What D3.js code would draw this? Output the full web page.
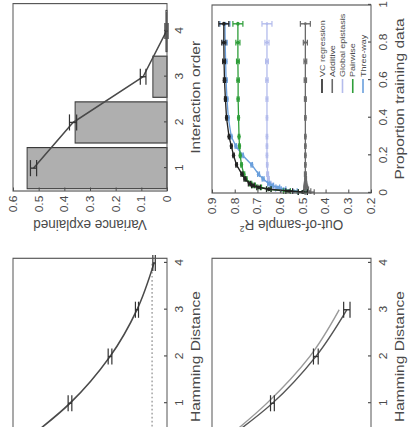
<!DOCTYPE html>
<html>
<head>
<meta charset="utf-8">
<script src="https://cdn.jsdelivr.net/npm/d3@7"></script>
<style>
body { margin: 0; background: #fff; }
svg { display: block; font-family: "Liberation Sans", Arial, sans-serif; }
</style>
</head>
<body>
<div class="plot"></div>
<script>
// variance explained by interaction order
var orders = [1, 2, 3, 4];
var varBars = [0.545, 0.358, 0.055, 0.004];
var varLine = [0.52, 0.366, 0.093, 0.002];
var varErr = [0.012, 0.014, 0.011, 0.006];
var varTicks = [0, 0.1, 0.2, 0.3, 0.4, 0.5, 0.6];

// out-of-sample R2 vs proportion of training data
var props = [0.005, 0.01, 0.02, 0.03, 0.04, 0.05, 0.075, 0.1, 0.15, 0.2, 0.25, 0.3, 0.4, 0.5, 0.6, 0.7, 0.8, 0.9];
var r2Names = ["VC regression", "Additive", "Global epistasis", "Pairwise", "Three-way"];
var r2Colors = ["#222222", "#6a6a6a", "#b4bcec", "#2f9e3a", "#6a9fdc"];
var r2VC = [0.50, 0.56, 0.65, 0.695, 0.72, 0.735, 0.755, 0.768, 0.792, 0.805, 0.815, 0.825, 0.836, 0.841, 0.845, 0.847, 0.848, 0.848];
var r2Add = [0.47, 0.48, 0.485, 0.487, 0.488, 0.488, 0.488, 0.489, 0.489, 0.489, 0.489, 0.489, 0.489, 0.489, 0.489, 0.489, 0.489, 0.489];
var r2Glob = [0.50, 0.56, 0.61, 0.63, 0.64, 0.645, 0.652, 0.655, 0.657, 0.658, 0.658, 0.658, 0.658, 0.658, 0.658, 0.658, 0.658, 0.658];
var r2Pair = [0.50, 0.57, 0.65, 0.69, 0.715, 0.73, 0.75, 0.76, 0.77, 0.776, 0.779, 0.781, 0.783, 0.785, 0.785, 0.786, 0.786, 0.786];
var r2Three = [0.50, 0.54, 0.585, 0.61, 0.635, 0.65, 0.675, 0.695, 0.725, 0.765, 0.795, 0.815, 0.828, 0.834, 0.838, 0.84, 0.842, 0.843];
var r2Err = [0.02, 0.015, 0.01, 0.008, 0.006, 0.005, 0.004, 0.004, 0.003, 0.003, 0.003, 0.003, 0.003, 0.004, 0.005, 0.006, 0.009, 0.022];
var propTicks = [0, 0.2, 0.4, 0.6, 0.8, 1];
var r2Ticks = [0.2, 0.3, 0.4, 0.5, 0.6, 0.7, 0.8, 0.9];

// decay with Hamming distance
var hamDist = [0, 1, 2, 3, 4];
var hamCorr = [1, 0.63, 0.37, 0.195, 0.084];
var hamErr = [0, 0.012, 0.012, 0.01, 0.008];
var hamRef = 0.097;
var hamDistB = [0, 1, 2, 3];
var hamCorrB1 = [1, 0.62, 0.347, 0.152];
var hamCorrB2 = [1, 0.655, 0.385, 0.2];
var hamErrB = [0, 0.012, 0.015, 0.02];
var hamTicks = [1, 2, 3, 4];

var W = 408, H = 427, S = 1.15;
var ink = "#4a4a4a";

// the figure is turned a quarter turn to the left and a little stretched;
// ox turns a row of the picture into the figure's own x
function ox(Y) { return (H - Y) / S; }

var svg = d3.select(".plot").append("svg")
    .attr("width", W)
    .attr("height", H);

var fig = svg.append("g")
    .attr("transform", "translate(0," + H + ") rotate(-90) scale(" + S + ",1)");

function axes(g, x, y, xt, yt, xfmt, yfmt, xlab, ylab) {
  var x0 = d3.min(x.range()), x1 = d3.max(x.range());
  var y0 = d3.min(y.range()), y1 = d3.max(y.range());

  g.append("g")
      .attr("transform", "translate(0," + y1 + ")")
      .call(d3.axisBottom(x).tickValues(xt).tickFormat(xfmt)
        .tickSizeInner(-3).tickSizeOuter(0).tickPadding(9));
  if (yt) {
    g.append("g")
        .attr("transform", "translate(" + x0 + ",0)")
        .call(d3.axisLeft(y).tickValues(yt).tickFormat(yfmt)
          .tickSizeInner(-3).tickSizeOuter(0).tickPadding(4));
  }
  g.selectAll(".domain").remove();
  g.selectAll(".tick line").attr("stroke", ink);
  g.selectAll(".tick text")
      .attr("font-size", 10.5)
      .attr("fill", ink);
  g.selectAll("g").attr("font-family", null);

  g.append("rect")
      .attr("x", x0).attr("y", y0)
      .attr("width", x1 - x0).attr("height", y1 - y0)
      .attr("fill", "none")
      .attr("stroke", "#555")
      .attr("stroke-width", 1);

  g.append("text")
      .attr("x", (x0 + x1) / 2)
      .attr("y", y1 + 33)
      .attr("text-anchor", "middle")
      .attr("font-size", 13.5)
      .attr("fill", ink)
      .text(xlab);

  if (ylab) {
    g.append("text")
        .attr("transform", "translate(" + ox(225) + "," + (y0 + y1) / 2 + ") rotate(-90)")
        .attr("dy", "0.3em")
        .attr("text-anchor", "middle")
        .attr("font-size", 13.5)
        .attr("fill", ink)
        .text(ylab);
  }
}

function errorBars(g, xs, vs, es, x, y, cap, col) {
  var eb = g.append("g").attr("stroke", col).attr("stroke-width", 1.2);
  xs.forEach(function(d, i) {
    if (!es[i]) return;
    eb.append("line").attr("x1", x(d)).attr("x2", x(d))
        .attr("y1", y(vs[i] - es[i])).attr("y2", y(vs[i] + es[i]));
    [vs[i] - es[i], vs[i] + es[i]].forEach(function(v) {
      eb.append("line").attr("x1", x(d) - cap).attr("x2", x(d) + cap)
          .attr("y1", y(v)).attr("y2", y(v));
    });
  });
}

// ---- variance explained (upper left of the picture) ----
var gV = fig.append("g");
var xV = d3.scaleLinear().domain([0.5, 4.6]).range([ox(191), ox(3.6)]);
var yV = d3.scaleLinear().domain([0, 0.6]).range([167, 13]);
var bw = (xV(1) - xV(0.5)) * 1.8;

gV.selectAll(".bar")
    .data(orders)
  .enter().append("rect")
    .attr("class", "bar")
    .attr("x", function(d) { return xV(d) - bw / 2; })
    .attr("width", bw)
    .attr("y", function(d, i) { return yV(varBars[i]); })
    .attr("height", function(d, i) { return yV(0) - yV(varBars[i]); })
    .attr("fill", "#afafaf")
    .attr("stroke", "#3a3a3a")
    .attr("stroke-width", 1);

gV.append("path")
    .datum(orders)
    .attr("fill", "none")
    .attr("stroke", ink)
    .attr("stroke-width", 1.4)
    .attr("d", d3.line()
      .x(function(d) { return xV(d); })
      .y(function(d, i) { return yV(varLine[i]); }));

errorBars(gV, orders, varLine, varErr, xV, yV, 7, "#333");

axes(gV, xV, yV, orders, varTicks, d3.format("d"), function(d) { return d === 0 ? "0" : d3.format(".1f")(d); },
  "Interaction order", "Variance explained");

// ---- out-of-sample R2 (upper right of the picture) ----
var gR = fig.append("g");
var xR = d3.scaleLinear().domain([0, 1]).range([ox(193), ox(5)]);
var yR = d3.scaleLinear().domain([0.2, 0.9]).range([371, 212]);
var r2Series = [r2VC, r2Add, r2Glob, r2Pair, r2Three];
var drawOrder = [1, 2, 4, 3, 0];

drawOrder.forEach(function(k) {
  var vals = r2Series[k], col = r2Colors[k];
  gR.append("path")
      .datum(props)
      .attr("fill", "none")
      .attr("stroke", col)
      .attr("stroke-width", 1.3)
      .attr("d", d3.line()
        .x(function(d) { return xR(d); })
        .y(function(d, i) { return yR(vals[i]); }));
  errorBars(gR, props, vals, r2Err, xR, yR, 2.5, col);
  gR.selectAll(".m" + k)
      .data(props)
    .enter().append("circle")
      .attr("class", "m" + k)
      .attr("cx", function(d) { return xR(d); })
      .attr("cy", function(d, i) { return yR(vals[i]); })
      .attr("r", k === 1 || k === 2 ? 1.3 : 1.7)
      .attr("fill", col);
});

axes(gR, xR, yR, propTicks, r2Ticks, function(d) { return d === 0 || d === 1 ? String(d) : d3.format(".1f")(d); },
  d3.format(".1f"), "Proportion training data", null);

gR.append("text")
    .attr("transform", "translate(" + ox(225) + "," + (212 + 371) / 2 + ") rotate(-90)")
    .attr("dy", "0.3em")
    .attr("text-anchor", "middle")
    .attr("font-size", 13.5)
    .attr("fill", ink)
    .text("Out-of-sample R")
  .append("tspan")
    .attr("font-size", 8.5)
    .attr("dy", "-0.6em")
    .text("2");

// legend
var leg = gR.append("g").attr("transform", "translate(" + ox(93) + ",0)");
var legY = d3.scalePoint().domain(r2Names).range([322, 363]);
r2Names.forEach(function(n, i) {
  leg.append("line")
      .attr("x1", 0).attr("x2", ox(79) - ox(93))
      .attr("y1", legY(n)).attr("y2", legY(n))
      .attr("stroke", r2Colors[i])
      .attr("stroke-width", 1.6);
  leg.append("text")
      .attr("x", ox(77) - ox(93))
      .attr("y", legY(n))
      .attr("dy", "0.35em")
      .attr("font-size", 7.8)
      .attr("fill", ink)
      .text(n);
});

// ---- Hamming distance, single curve (lower left of the picture) ----
var xH = d3.scaleLinear().domain([-0.1, 4.1]).range([ox(454.7), ox(258.3)]);
var gA = fig.append("g");
var yA = d3.scaleLinear().domain([0, 1]).range([167, 13]);

gA.append("line")
    .attr("x1", xH(-0.1)).attr("x2", xH(4))
    .attr("y1", yA(hamRef)).attr("y2", yA(hamRef))
    .attr("stroke", "#777")
    .attr("stroke-width", 1)
    .attr("stroke-dasharray", "1.5,2");

gA.append("path")
    .datum(hamDist)
    .attr("fill", "none")
    .attr("stroke", ink)
    .attr("stroke-width", 1.5)
    .attr("d", d3.line().curve(d3.curveMonotoneX)
      .x(function(d) { return xH(d); })
      .y(function(d, i) { return yA(hamCorr[i]); }));
errorBars(gA, hamDist, hamCorr, hamErr, xH, yA, 7, "#333");
axes(gA, xH, yA, hamTicks, null, d3.format("d"), null, "Hamming Distance", null);

// ---- Hamming distance, two curves (lower right of the picture) ----
var gB = fig.append("g");
var yB = d3.scaleLinear().domain([0, 1]).range([371, 212]);

gB.append("path")
    .datum(hamDistB)
    .attr("fill", "none")
    .attr("stroke", "#9a9a9a")
    .attr("stroke-width", 1.3)
    .attr("d", d3.line().curve(d3.curveMonotoneX)
      .x(function(d) { return xH(d); })
      .y(function(d, i) { return yB(hamCorrB2[i]); }));
gB.append("path")
    .datum(hamDistB)
    .attr("fill", "none")
    .attr("stroke", "#555")
    .attr("stroke-width", 1.3)
    .attr("d", d3.line().curve(d3.curveMonotoneX)
      .x(function(d) { return xH(d); })
      .y(function(d, i) { return yB(hamCorrB1[i]); }));
errorBars(gB, hamDistB, hamCorrB1, hamErrB, xH, yB, 7, "#333");
axes(gB, xH, yB, hamTicks, null, d3.format("d"), null, "Hamming Distance", null);
</script>
</body>
</html>
